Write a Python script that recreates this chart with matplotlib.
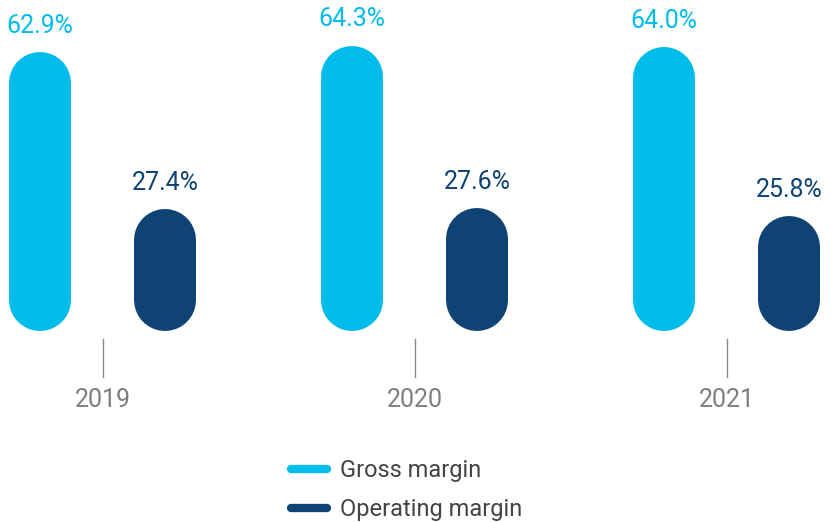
import matplotlib.pyplot as plt
from matplotlib.lines import Line2D

plt.rcParams['font.family'] = ['Roboto', 'DejaVu Sans']

years = ['2019', '2020', '2021']
gross_margin = [62.9, 64.3, 64.0]
operating_margin = [27.4, 27.6, 25.8]

light_blue = '#00BCEB'
dark_blue = '#0E4373'

fig = plt.figure(figsize=(8.38, 5.22), dpi=100)
ax = fig.add_axes([0, 0, 1, 1])
ax.set_xlim(-0.3285, 2.357)
ax.set_ylim(-43.0, 74.55)
ax.axis('off')

# capsule bars: thick lines with round caps, caps kept inside the value
bar_px = 62
px_per_unit = 522 / (74.55 + 43.0)
r = (bar_px / 2) / px_per_unit
lw = bar_px * 72 / 100
off = 0.2003

for i, year in enumerate(years):
    for x, v, c in [(i - off, gross_margin[i], light_blue),
                    (i + off, operating_margin[i], dark_blue)]:
        ax.plot([x, x], [r, v - r], color=c, lw=lw, solid_capstyle='round')
        ax.annotate(f"{v:.1f}%", (x, v), xytext=(0, 13.7), textcoords='offset points',
                    ha='center', va='baseline', color=c, fontsize=18)
    ax.plot([i, i], [-1.8, -10.4], color='#8a8a8a', lw=1)
    ax.text(i, -17.1, year, ha='center', va='baseline', color='#7f7f7f', fontsize=18)

handles = [Line2D([], [], color=light_blue, lw=6, solid_capstyle='round'),
           Line2D([], [], color=dark_blue, lw=6, solid_capstyle='round')]
leg = fig.legend(handles, ['Gross margin', 'Operating margin'], loc='upper left',
                 bbox_to_anchor=(0.3473, 0.1205), frameon=False, fontsize=17,
                 borderpad=0, borderaxespad=0, handlelength=1.53, handletextpad=0.55,
                 labelspacing=0.68)
for t in leg.get_texts():
    t.set_color('#444444')

fig.savefig('out.png', dpi=100)
